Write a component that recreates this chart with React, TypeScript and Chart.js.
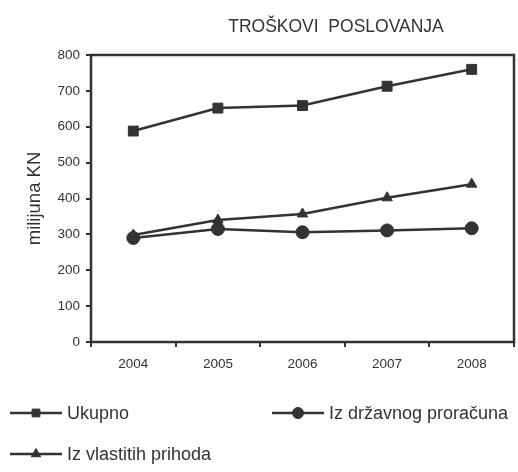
import React, { useEffect, useRef } from "react";
import { Chart, registerables } from "chart.js";
import { drawPoint } from "chart.js/helpers";

Chart.register(...registerables);

const chartTitle = "TROŠKOVI  POSLOVANJA";
const yAxisTitle = "milijuna KN";
const years = ["2004", "2005", "2006", "2007", "2008"];
const ukupno = [588, 652, 659, 713, 760];
const drzavni = [290, 315, 306, 311, 317];
const vlastiti = [298, 340, 357, 402, 440];
const seriesLabels = ["Ukupno", "Iz državnog proračuna", "Iz vlastitih prihoda"];

const INK = "#333333";
const FONT = "'Liberation Sans', Arial, sans-serif";

const decorPlugin = {
  id: "decor",
  afterDraw(chart: any) {
    const ctx = chart.ctx;
    const a = chart.chartArea;
    ctx.save();
    // frame
    ctx.strokeStyle = INK;
    ctx.lineWidth = 2.5;
    ctx.strokeRect(a.left, a.top, a.right - a.left, a.bottom - a.top);
    // title
    ctx.fillStyle = INK;
    ctx.font = `17.5px ${FONT}`;
    ctx.textAlign = "center";
    ctx.textBaseline = "middle";
    ctx.fillText(chartTitle, 336, 27);
    // legend
    const slots = [
      { x: 10, y: 413 },
      { x: 272, y: 413 },
      { x: 10, y: 454 },
    ];
    chart.data.datasets.forEach((ds: any, i: number) => {
      const s = slots[i];
      ctx.strokeStyle = INK;
      ctx.lineWidth = 2.5;
      ctx.beginPath();
      ctx.moveTo(s.x, s.y);
      ctx.lineTo(s.x + 52, s.y);
      ctx.stroke();
      ctx.fillStyle = INK;
      ctx.lineWidth = 1;
      drawPoint(
        ctx,
        { pointStyle: ds.pointStyle, radius: 5.5, borderWidth: 1, rotation: 0 },
        s.x + 26,
        s.y
      );
      ctx.fillStyle = INK;
      ctx.font = `18px ${FONT}`;
      ctx.textAlign = "left";
      ctx.textBaseline = "middle";
      ctx.fillText(ds.label, s.x + 57, s.y + 1);
    });
    ctx.restore();
  },
};

export default function App() {
  const ref = useRef<HTMLCanvasElement>(null);
  useEffect(() => {
    document.body.style.margin = "0";
    const mk = (label: string, data: number[], style: string, r: number) => ({
      label,
      data,
      borderColor: INK,
      backgroundColor: INK,
      pointBackgroundColor: INK,
      pointBorderColor: INK,
      borderWidth: 2.5,
      pointStyle: style,
      pointRadius: r,
      pointBorderWidth: 1,
      tension: 0,
    });
    const chart = new Chart(ref.current!, {
      type: "line",
      data: {
        labels: years,
        datasets: [
          mk(seriesLabels[0], ukupno, "rect", 7),
          mk(seriesLabels[1], drzavni, "circle", 6.5),
          mk(seriesLabels[2], vlastiti, "triangle", 6),
        ],
      },
      options: {
        animation: false,
        responsive: false,
        maintainAspectRatio: false,
        layout: { autoPadding: false, padding: { top: 55, right: 4, bottom: 100, left: 0 } },
        plugins: { legend: { display: false }, title: { display: false }, tooltip: { enabled: false } },
        scales: {
          x: {
            offset: true,
            grid: { offset: true, drawOnChartArea: false, drawTicks: true, tickLength: 5, color: INK, lineWidth: 2 },
            border: { display: false },
            ticks: { color: INK, font: { family: FONT, size: 13.5 }, padding: 9 },
            afterFit: (s: any) => { s.height = 30; s.paddingLeft = 0; s.paddingRight = 0; },
          },
          y: {
            min: 0,
            max: 800,
            ticks: { stepSize: 100, color: INK, font: { family: FONT, size: 13.5 }, padding: 6 },
            grid: { drawOnChartArea: false, drawTicks: true, tickLength: 5, color: INK, lineWidth: 2 },
            border: { display: false },
            title: { display: true, text: yAxisTitle, color: INK, font: { family: FONT, size: 18.5 }, padding: { top: 24, bottom: 0 } },
            afterFit: (s: any) => { s.width = 91; },
          },
        },
      },
      plugins: [decorPlugin],
    });
    return () => chart.destroy();
  }, []);
  return (
    <div style={{ width: 518, height: 472 }}>
      <canvas ref={ref} width={518} height={472} style={{ display: "block", width: 518, height: 472 }} />
    </div>
  );
}
